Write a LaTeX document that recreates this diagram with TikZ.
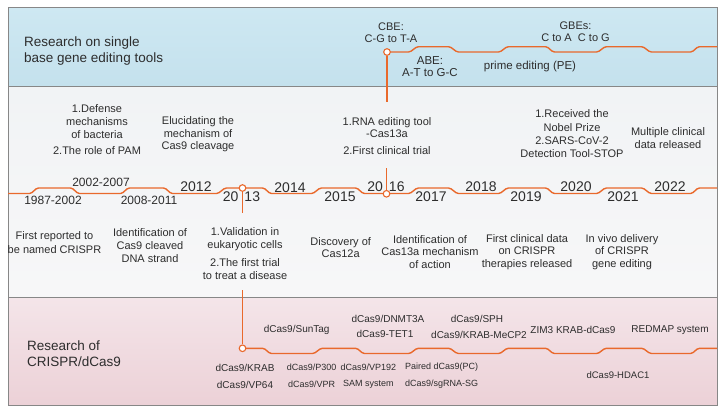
\documentclass[tikz,border=0pt]{standalone}
\usepackage{fontspec}
\setmainfont{Liberation Sans}
\definecolor{tlorange}{RGB}{233,105,44}
\definecolor{txt}{RGB}{45,45,45}
\definecolor{framegrey}{RGB}{135,135,135}
\definecolor{bluetop}{RGB}{206,232,242}
\definecolor{bluebot}{RGB}{196,225,237}
\definecolor{midtop}{RGB}{241,243,245}
\definecolor{midbot}{RGB}{247,247,248}
\definecolor{pinktop}{RGB}{244,229,233}
\definecolor{pinkbot}{RGB}{236,209,215}
\begin{document}
\begin{tikzpicture}[x=1pt,y=-1pt,
  desc/.style={font=\fontsize{11}{12.8}\selectfont, align=center, text=txt, inner sep=0pt},
  topdesc/.style={font=\fontsize{11.5}{12.4}\selectfont, align=center, text=txt, inner sep=0pt},
  yearbig/.style={font=\fontsize{14}{16}\selectfont, text=txt, inner sep=0pt},
  yearsm/.style={font=\fontsize{12}{14}\selectfont, text=txt, inner sep=0pt},
  dcas/.style={font=\fontsize{10}{12}\selectfont, text=txt, inner sep=0pt},
  dcassm/.style={font=\fontsize{9}{11}\selectfont, text=txt, inner sep=0pt},
  bandtitle/.style={font=\fontsize{13.5}{15.5}\selectfont, align=left, anchor=west, text=txt, inner sep=0pt},
  dot/.style={circle, draw=tlorange, fill=white, line width=1.1pt, minimum size=6.6pt, inner sep=0pt},
  tline/.style={draw=tlorange, line width=1.4pt, rounded corners=1.5pt},
  conn/.style={draw=tlorange, line width=1.4pt}
]
\useasboundingbox (0,0) rectangle (727,415);
\fill[white] (0,0) rectangle (727,415);
% bands
\shade[top color=bluetop, bottom color=bluebot] (8,7) rectangle (717,86);
\shade[top color=midtop, bottom color=midbot] (8,86) rectangle (717,297);
\shade[top color=pinktop, bottom color=pinkbot] (8,297) rectangle (717,405);
\draw[framegrey, line width=0.9pt] (8,7) rectangle (717,405);
\draw[framegrey, line width=0.9pt] (8,86) -- (717,86);
\draw[framegrey, line width=0.9pt] (8,297) -- (717,297);

% band titles
\node[bandtitle] (ttop) at (24,51) {Research on single\\base gene editing tools};
\node[bandtitle] (tbot) at (27,353.5) {Research of\\CRISPR/dCas9};

% main timeline
\path[tline] (8,193.5) -- (31,193.5) -- (37,188) -- (72,188) -- (78,193.5) -- (122,193.5) -- (128,188) -- (165,188) -- (171,193.5) -- (218,193.5) -- (225,188) -- (264,188) -- (270,193.5) -- (313,193.5) -- (320,188) -- (357,188) -- (363,193.5) -- (410,193.5) -- (417,188) -- (450,188) -- (457,193.5) -- (500,193.5) -- (507,188) -- (547,188) -- (553,193.5) -- (598,193.5) -- (605,188) -- (643,188) -- (650,193.5) -- (692,193.5) -- (698,188) -- (717,188);
% top timeline
\path[tline] (387,52) -- (410,52) -- (417,46.7) -- (450,46.7) -- (457,52) -- (500,52) -- (507,46.7) -- (547,46.7) -- (553,52) -- (598,52) -- (605,46.7) -- (643,46.7) -- (650,52) -- (692,52) -- (698,46.7) -- (717,46.7);
% bottom timeline
\path[tline] (242.5,348.3) -- (264,348.3) -- (270,353.5) -- (314,353.5) -- (321,348.3) -- (357,348.3) -- (363,353.5) -- (410,353.5) -- (417,348.3) -- (450,348.3) -- (457,353.5) -- (500,353.5) -- (507,348.3) -- (547,348.3) -- (553,353.5) -- (598,353.5) -- (605,348.3) -- (643,348.3) -- (650,353.5) -- (692,353.5) -- (698,348.3) -- (717,348.3);

% year labels
\node[yearsm] (y1987) at (53,200.7) {1987-2002};
\node[yearsm] (y2002) at (101,182.3) {2002-2007};
\node[yearsm] (y2008) at (149,200.7) {2008-2011};
\node[yearbig] (y2012) at (196,187) {2012};
\node[yearbig] (y2013) at (241.5,196.7) {20\kern6pt 13};
\node[yearbig] (y2014) at (290,188) {2014};
\node[yearbig] (y2015) at (340,196.5) {2015};
\node[yearbig] (y2016) at (386,186.7) {20\kern6pt 16};
\node[yearbig] (y2017) at (431,196.5) {2017};
\node[yearbig] (y2018) at (481,187) {2018};
\node[yearbig] (y2019) at (526,196.5) {2019};
\node[yearbig] (y2020) at (576,187) {2020};
\node[yearbig] (y2021) at (623,196.5) {2021};
\node[yearbig] (y2022) at (670,187) {2022};

% circles
\node[dot] (ctop) at (387,52) {};
\node[dot] (c2013) at (242.5,188) {};
\node[dot] (c2016) at (386.5,193.8) {};
\node[dot] (cbot) at (242.5,348.3) {};
\coordinate (vtopend) at (387,102);
\coordinate (v16start) at (386.5,168);
\coordinate (v13end) at (242.5,213);
\coordinate (vbotstart) at (242.5,290);
\draw[conn] (ctop) -- (vtopend);
\draw[conn] (v16start) -- (c2016);
\draw[conn] (c2013) -- (v13end);
\draw[conn] (vbotstart) -- (cbot);

% top band labels
\node[topdesc, font=\fontsize{11}{11.4}\selectfont] (cbe) at (391,32.6) {CBE:\\C-G to T-A};
\node[topdesc] (abe) at (430,66.5) {ABE:\\A-T to G-C};
\node[topdesc] (pe) at (530,67) {prime editing (PE)};
\node[topdesc, font=\fontsize{11}{12.2}\selectfont] (gbe) at (575.5,32) {GBEs:\\C to A\ \ C to G};

% middle band, above line
\node[desc, font=\fontsize{11}{12.8}\selectfont] (d1) at (97,121.5) {1.Defense\\mechanisms\\of bacteria};
\node[desc] (d1b) at (97,151) {2.The role of PAM};
\node[desc] (d2) at (198,134.3) {Elucidating the\\mechanism of\\Cas9 cleavage};
\node[desc] (d3) at (387,127.5) {1.RNA editing tool\\-Cas13a};
\node[desc] (d3b) at (387,151) {2.First clinical trial};
\node[desc, font=\fontsize{11}{13.3}\selectfont] (d4) at (572,134) {1.Received the\\Nobel Prize\\2.SARS-CoV-2\\Detection Tool-STOP};
\node[desc, font=\fontsize{11}{12.3}\selectfont] (d5) at (668,138) {Multiple clinical\\data released};

% middle band, below line
\node[desc, font=\fontsize{11}{13.3}\selectfont] (e1) at (54.5,242.7) {First reported to\\be named CRISPR};
\node[desc] (e2) at (150,245.5) {Identification of\\Cas9 cleaved\\DNA strand};
\node[desc] (e3) at (245,239) {1.Validation in\\eukaryotic cells};
\node[desc, font=\fontsize{11}{13.3}\selectfont] (e3b) at (245,269.3) {2.The first trial\\to treat a disease};
\node[desc, font=\fontsize{11}{12}\selectfont] (e4) at (340.7,247.7) {Discovery of\\Cas12a};
\node[desc] (e5) at (430,252) {Identification of\\Cas13a mechanism\\of action};
\node[desc] (e6) at (527,252) {First clinical data\\on CRISPR\\therapies released};
\node[desc] (e7) at (622,252) {In vivo delivery\\of CRISPR\\gene editing};

% bottom band labels
\node[dcas] (f1) at (296.7,329.8) {dCas9/SunTag};
\node[dcas] (f2) at (388,318.8) {dCas9/DNMT3A};
\node[dcas] (f3) at (385,333.8) {dCas9-TET1};
\node[dcas] (f4) at (477,318.8) {dCas9/SPH};
\node[dcas] (f5) at (479,334.5) {dCas9/KRAB-MeCP2};
\node[dcas] (f6) at (573,329.8) {ZIM3 KRAB-dCas9};
\node[dcas] (f7) at (670,329.8) {REDMAP system};
\node[dcas] (g1) at (245,367.8) {dCas9/KRAB};
\node[dcas] (g2) at (245,384.5) {dCas9/VP64};
\node[dcassm] (g3) at (311.7,367.5) {dCas9/P300};
\node[dcassm] (g4) at (311.7,384.5) {dCas9/VPR};
\node[dcassm] (g5) at (368.3,367.5) {dCas9/VP192};
\node[dcassm] (g6) at (368.3,384.5) {SAM system};
\node[dcassm] (g7) at (441.7,367.5) {Paired dCas9(PC)};
\node[dcassm] (g8) at (441.7,384.5) {dCas9/sgRNA-SG};
\node[dcas, font=\fontsize{9.5}{11}\selectfont] (g9) at (618,375.5) {dCas9-HDAC1};
\end{tikzpicture}
\end{document}
